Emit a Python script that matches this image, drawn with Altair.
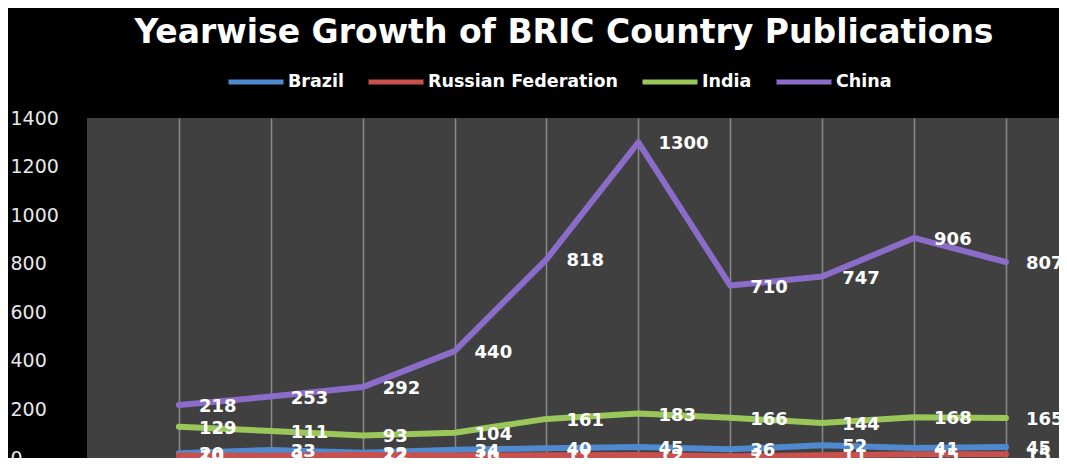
import altair as alt
import pandas as pd

# ---- data ----
years = [2004, 2005, 2006, 2007, 2008, 2009, 2010, 2011, 2012, 2013]
countries = ["Brazil", "Russian Federation", "India", "China"]
brazil = [20, 33, 22, 34, 40, 45, 36, 52, 41, 45]
russia = [10, 9, 12, 10, 11, 12, 7, 11, 15, 15]
india = [129, 111, 93, 104, 161, 183, 166, 144, 168, 165]
china = [218, 253, 292, 440, 818, 1300, 710, 747, 906, 807]
colors = ["#4F8AD0", "#C8504D", "#9BC75A", "#8B6CC8"]
y_ticks = [0, 200, 400, 600, 800, 1000, 1200, 1400]

rows = []
for name, vals in zip(countries, [brazil, russia, india, china]):
    for yr, v in zip(years, vals):
        rows.append({"Year": yr, "Country": name, "Publications": v})
df = pd.DataFrame(rows)

x = alt.X(
    "Year:Q",
    scale=alt.Scale(domain=[years[0] - 1, years[-1] + 0.577], nice=False, zero=False),
    axis=alt.Axis(values=years, labels=False, ticks=False, domain=False, grid=True,
                  gridColor="#8a8a8a", gridWidth=1.5, title=None),
)
y = alt.Y(
    "Publications:Q",
    scale=alt.Scale(domain=[0, 1400], nice=False),
    axis=alt.Axis(values=y_ticks, format="d", grid=False, ticks=False, domain=False, title=None,
                  labelAlign="left", labelPadding=77, labelColor="#e8e8e8",
                  labelFont="DejaVu Sans", labelFontSize=19, labelBaseline="middle"),
)

lines = alt.Chart(df).mark_line(strokeWidth=6, strokeCap="round", strokeJoin="round").encode(
    x=x,
    y=y,
    color=alt.Color(
        "Country:N",
        scale=alt.Scale(domain=countries, range=colors),
        sort=countries,
        legend=alt.Legend(
            orient="none", legendX=139, legendY=-66, direction="horizontal", title=None,
            symbolType="stroke", symbolSize=3025, symbolStrokeWidth=5,
            labelColor="white", labelFont="DejaVu Sans", labelFontWeight="bold",
            labelFontSize=17.5, labelOffset=2, columnPadding=14, labelLimit=0,
        ),
    ),
)

labels = alt.Chart(df).mark_text(
    align="left", baseline="middle", dx=20, dy=2, color="white",
    font="DejaVu Sans", fontSize=18, fontWeight="bold",
).encode(x=x, y=y, text="Publications:Q")

chart = alt.layer(lines, labels).properties(
    width=972,
    height=340,
    background="black",
    padding={"left": 79, "top": 110, "right": 0, "bottom": 0},
    autosize=alt.AutoSizeParams(type="none"),
    title=alt.Title("Yearwise Growth of BRIC Country Publications", color="white",
                    font="DejaVu Sans", fontSize=33, fontWeight="bold",
                    anchor="middle", offset=2, dx=-9),
).configure_view(fill="#404040", stroke=None)

chart.save("out.html", embed_options={"renderer": "svg", "actions": False})
